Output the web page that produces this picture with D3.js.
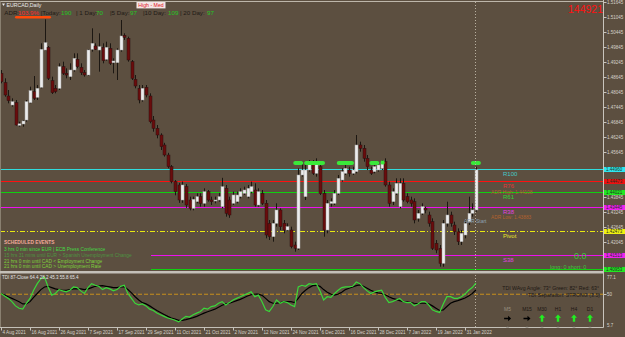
<!DOCTYPE html>
<html><head><meta charset="utf-8">
<script src="https://cdn.jsdelivr.net/npm/d3@7"></script>
<style>
html,body{margin:0;padding:0;background:#5c4f40;}
svg{display:block;}
text{font-family:"Liberation Sans",Arial,sans-serif;}
</style></head><body>
<svg id="c" width="625" height="337"></svg>
<script>
// ---------- DATA ----------
const opens  = [1.48780,1.48406,1.47873,1.47513,1.47606,1.46700,1.46753,1.46913,1.47606,1.48046,1.47820,1.48220,1.49713,1.49820,1.48486,1.48180,1.48180,1.49046,1.48780,1.48646,1.48913,1.49340,1.49020,1.48806,1.48713,1.49740,1.49873,1.49713,1.49820,1.49340,1.49780,1.49206,1.49206,1.49713,1.50300,1.50180,1.49246,1.48540,1.48180,1.47713,1.48220,1.47873,1.46913,1.46580,1.46313,
1.45913,1.45513,1.45046,1.44446,1.44313,1.43713,1.44246,1.43713,1.43380,1.43646,1.43846,1.43580,1.44046,1.43713,1.43680,1.43713,1.43446,1.44180,1.43713,1.43580,1.43646,1.43846,1.43980,1.43846,1.44046,1.44113,1.43513,1.43980,1.43580,1.42780,1.42246,1.42780,1.43313,1.42780,1.42513,1.42513,1.41913,1.41780,1.44713,1.43846,1.44913,1.45180,1.44780,1.45046,1.43980,1.42513,1.43580,1.43580,1.43980,1.44513,1.44780,1.44913,1.44780,1.44846,1.45913,1.45780,1.45380,1.44913,1.44846,1.44913,1.44980,1.45246,1.44313,1.43646,1.43980,1.43446,1.44380,1.43846,1.43713,1.43646,1.42980,1.43180,1.43380,1.43113,1.42846,1.41980,1.41780,1.41180,1.42780,1.43113,1.42713,1.42446,1.42046,1.42313,1.42846,1.43180,1.43313];
const highs  = [1.48913,1.48580,1.48113,1.47780,1.47713,1.46846,1.46913,1.47713,1.48246,1.48673,1.48313,1.49980,1.50940,1.49873,1.48646,1.48313,1.49180,1.49246,1.48980,1.49180,1.49580,1.49580,1.49180,1.48913,1.49740,1.50580,1.49980,1.50380,1.49980,1.50046,1.49980,1.49380,1.49780,1.50913,1.50380,1.50246,1.49313,1.48713,1.48313,1.48313,1.48313,1.47980,1.47073,1.46713,1.46380,
1.46000,1.45600,1.45113,1.44513,1.44400,1.44450,1.44350,1.43846,1.43846,1.43980,1.43980,1.44180,1.44113,1.43846,1.43846,1.44000,1.44600,1.44313,1.43846,1.44046,1.44046,1.44180,1.44246,1.44313,1.44446,1.44380,1.44180,1.44113,1.43713,1.42913,1.42913,1.43580,1.43380,1.42913,1.42780,1.42646,1.42046,1.44980,1.45246,1.45113,1.45313,1.45313,1.45380,1.45180,1.44113,1.43713,1.43780,1.44113,1.44713,1.44980,1.45113,1.45046,1.45046,1.46313,1.46046,1.45913,1.45513,1.45046,1.45180,1.45246,1.45313,1.45380,1.44446,1.44180,1.44580,1.44580,1.44580,1.43980,1.43846,1.43780,1.43313,1.43580,1.43446,1.43246,1.42980,1.42113,1.41913,1.42913,1.43646,1.43246,1.42846,1.42580,1.42513,1.42913,1.43846,1.43580,1.45046];
const lows   = [1.48380,1.47846,1.47580,1.47446,1.46690,1.46646,1.46646,1.46846,1.47580,1.47713,1.47713,1.48180,1.49700,1.48513,1.47953,1.47980,1.48113,1.48713,1.48580,1.48513,1.48846,1.48980,1.48713,1.48646,1.48673,1.49646,1.49713,1.48846,1.49180,1.49286,1.49113,1.48780,1.48513,1.49646,1.50113,1.49246,1.48513,1.48180,1.47580,1.47646,1.47820,1.46780,1.46446,1.46180,1.45713,
1.45450,1.44980,1.44380,1.43900,1.43600,1.43600,1.43400,1.43300,1.43300,1.43580,1.43446,1.43446,1.43646,1.43513,1.43580,1.43646,1.43380,1.43046,1.43000,1.43513,1.43580,1.43780,1.43913,1.43780,1.43980,1.43446,1.43446,1.43513,1.42180,1.42113,1.42046,1.42646,1.42513,1.42380,1.42446,1.41780,1.41646,1.41713,1.44646,1.43713,1.44846,1.44713,1.44646,1.43913,1.42246,1.42380,1.43446,1.43513,1.43913,1.44446,1.44713,1.44646,1.44713,1.44780,1.45646,1.45246,1.44913,1.44713,1.44780,1.44846,1.44913,1.44246,1.43446,1.43513,1.43913,1.43380,1.43646,1.43580,1.43446,1.42780,1.42846,1.43113,1.43180,1.42646,1.41713,1.41580,1.41046,1.41046,1.42646,1.42646,1.42313,1.41913,1.41913,1.42180,1.42713,1.43046,1.43246];
const closes = [1.48446,1.47913,1.47686,1.47646,1.46713,1.46760,1.46873,1.47646,1.48086,1.47780,1.48180,1.49740,1.50006,1.48580,1.48006,1.48046,1.49046,1.48780,1.48713,1.48913,1.49380,1.49046,1.48806,1.48713,1.49713,1.49980,1.49740,1.49846,1.49286,1.49820,1.49180,1.49273,1.49713,1.50273,1.50220,1.49313,1.48580,1.48273,1.47713,1.48180,1.47913,1.46846,1.46580,1.46313,1.45846,
1.45513,1.45046,1.44446,1.44046,1.43713,1.44313,1.43513,1.43380,1.43740,1.43846,1.43580,1.44046,1.43713,1.43646,1.43713,1.43846,1.44246,1.43180,1.43113,1.43913,1.43913,1.44046,1.44113,1.44180,1.44246,1.43513,1.44046,1.43580,1.42313,1.42246,1.42780,1.43313,1.42646,1.42513,1.42646,1.41846,1.41780,1.44713,1.44913,1.44913,1.45180,1.44780,1.45246,1.43980,1.42513,1.43580,1.43646,1.43980,1.44580,1.44846,1.44980,1.44780,1.44913,1.45913,1.45780,1.45380,1.45046,1.44780,1.45046,1.45113,1.45180,1.44313,1.43580,1.44046,1.44380,1.44380,1.43713,1.43646,1.43580,1.42913,1.43180,1.43446,1.43313,1.42780,1.41780,1.41713,1.41180,1.42780,1.43113,1.42780,1.42446,1.42046,1.42380,1.42780,1.43180,1.43313,1.44921];

// TDI indicator (price line = green, trade signal = black)
const tdiPrice = [51.0,47.5,44.3,39.8,34.0,30.8,29.5,37.6,44.3,55.5,64.5,71.3,73.5,60.0,48.8,51.0,56.4,54.6,53.3,55.5,60.0,59.1,54.6,51.0,59.1,64.5,62.3,60.9,56.4,59.1,57.3,54.6,56.4,60.9,62.3,51.0,44.3,37.6,35.3,36.7,34.0,29.5,27.7,24.1,21.9,19.6,17.4,16.0,14.2,12.0,16.0,19.6,18.7,21.9,24.1,26.4,30.8,29.5,33.1,34.0,37.6,39.8,35.3,38.5,42.1,44.3,46.6,48.8,51.0,53.3,46.6,48.8,39.8,28.6,26.4,33.1,42.1,37.6,39.8,38.5,35.3,33.1,60.0,62.3,60.9,64.5,63.6,64.5,54.6,42.1,46.6,45.7,51.0,55.5,59.1,60.0,60.0,60.9,66.8,64.5,59.1,54.6,51.0,53.3,54.6,55.5,45.7,38.5,39.8,42.1,44.3,39.8,38.5,38.5,34.0,36.7,39.8,39.8,35.3,28.6,26.4,25.0,36.7,46.6,46.6,44.3,44.3,46.6,50.2,55.5,59.1,65.4];
const tdiSignal = [51.0,48.8,46.6,44.3,42.1,39.8,36.7,36.7,39.8,45.7,51.0,56.4,60.0,60.9,59.1,57.3,56.4,55.5,55.5,56.4,57.3,57.8,57.3,56.4,57.3,59.1,60.9,61.4,61.8,60.9,60.0,59.1,59.1,60.0,60.0,56.4,51.9,46.6,42.1,38.5,36.7,34.0,30.8,27.7,25.0,22.3,19.6,17.4,16.0,14.2,14.2,15.1,16.5,17.8,19.6,21.9,24.1,25.9,27.7,29.5,32.2,34.9,36.7,37.6,39.4,41.2,43.0,45.2,47.5,49.3,50.2,50.2,48.4,44.3,39.8,37.6,37.6,38.5,39.4,39.8,39.8,38.5,44.3,51.0,55.5,59.1,61.8,62.3,60.9,56.4,52.8,50.2,48.8,50.2,52.8,56.4,58.2,60.0,61.8,62.7,60.9,58.2,55.5,53.3,51.9,51.0,49.3,46.6,44.3,43.0,41.2,39.8,39.4,38.5,37.6,37.1,37.6,37.6,36.7,34.0,30.8,27.7,28.6,33.1,37.6,39.8,41.2,43.0,44.8,47.5,51.0,55.8];
const tdiLevel = 50;
const tdiRange = [77.1, 5.7];

const dateLabels = ["4 Aug 2021","16 Aug 2021","26 Aug 2021","7 Sep 2021","17 Sep 2021","29 Sep 2021","11 Oct 2021","21 Oct 2021","2 Nov 2021","12 Nov 2021","24 Nov 2021","6 Dec 2021","16 Dec 2021","28 Dec 2021","7 Jan 2022","19 Jan 2022","31 Jan 2022"];
const dateLabelBars = [0,8,16,24,32,40,48,56,64,72,80,88,96,104,112,120,128];

// price axis labels (those hidden behind level boxes are omitted)
const priceTicks = ["1.51645","1.51045","1.50445","1.49845","1.49245","1.48645","1.48045","1.47445","1.46845","1.46245","1.45645","1.43845","1.43245","1.42645","1.42045"];

const levelNames  = ["R100","R76","R61","R38","Pivot","S38","S61"];
const levelValues = [1.44960,1.44473,1.44021,1.43445,1.42473,1.41513,1.40953];

const markerBars = [82,85,86,87,88,94,95,96,103,131];
const smallMarkerBars = [105];

const adrParts = [["ADR:", "d"],["103.9%","r"],["|Today:","d"],["190","g"],["| 1 Day:","d"],["70","g"],["|5 Day:","d"],["97","g"],["|10 Day:","d"],["109","g"],["| 20 Day:","d"],["97","g"]];
const events = ["3 hrs 0 min since EUR  |  ECB Press Conference","15 hrs 31 mins until EUR  >  Spanish Unemployment Change","21 hrs 0 min until CAD  <  Employment Change","21 hrs 0 min until CAD  >  Unemployment Rate"];
const timeframes = ["M5","M15","M30","H1","H4","D1"];
const tfDirection = ["right","right","up","up","up","up"];
const lastPrice = "144921";

// ---------- DRAW ----------
const svg = d3.select("#c");
const W = 625, H = 337, PR = 603.5, MT = 2, MB = 271, IT = 273.5, IB = 327.5;
const x = d3.scaleLinear().domain([0,131]).range([1, 1+3.625*131]);
const y = d3.scaleLinear().domain([1.51645, 1.40873]).range([1.7, 271]);
const yi = d3.scaleLinear().domain(tdiRange).range([274.5, 326.5]);

svg.append("rect").attr("width",W).attr("height",H).attr("fill","#5c4f40");

const defs = svg.append("defs");
defs.append("clipPath").attr("id","mainClip").append("rect").attr("x",0).attr("y",MT).attr("width",PR).attr("height",MB-MT);
defs.append("clipPath").attr("id","indClip").append("rect").attr("x",0).attr("y",IT).attr("width",PR).attr("height",IB-IT);

const main = svg.append("g").attr("clip-path","url(#mainClip)");

// level lines
const levelColors = ["#30dcdc","#ff1010","#10d010","#ee10ee","#e8e810","#ee10ee","#10d010"];
const levelText   = ["#45c8c8","#e03a3a","#36d036","#e040e0","#e6e030","#e040e0","#36d036"];
const levelStart  = [0,0,0,0,0,151,151];
levelValues.forEach((v,k)=>{
  const yy = Math.round(y(v))+0.5;
  main.append("line").attr("x1",levelStart[k]).attr("x2",PR).attr("y1",yy).attr("y2",yy)
    .attr("stroke",levelColors[k]).attr("stroke-width",1).attr("shape-rendering","crispEdges")
    .attr("stroke-dasharray", levelNames[k]==="Pivot" ? "5,2,1,2" : null);
  main.append("text").attr("x",503).attr("y",yy+6).attr("font-size",6).attr("fill",levelText[k]).text(levelNames[k]);
});

// current bar vertical dotted line
svg.append("line").attr("x1",Math.round(x(131))-0.5).attr("x2",Math.round(x(131))-0.5).attr("y1",MT).attr("y2",IB)
  .attr("stroke","#b8b0a0").attr("stroke-dasharray","1,2").attr("stroke-width",1);

// candles
const bars = d3.range(opens.length);
const cg = main.append("g");
cg.selectAll("line.w").data(bars).join("line")
  .attr("x1",i=>Math.round(x(i))+0.5).attr("x2",i=>Math.round(x(i))+0.5)
  .attr("y1",i=>y(highs[i])).attr("y2",i=>y(lows[i]))
  .attr("stroke","#1c1712").attr("stroke-width",1);
cg.selectAll("rect.b").data(bars).join("rect")
  .attr("x",i=>Math.round(x(i))-1)
  .attr("width",3)
  .attr("y",i=>y(Math.max(opens[i],closes[i])))
  .attr("height",i=>Math.max(1,Math.abs(y(opens[i])-y(closes[i]))))
  .attr("fill",i=>closes[i]>=opens[i]?"#ececec":"#6a0c0c")
  .attr("stroke",i=>closes[i]>=opens[i]?"#a8a8a8":"#2a1010")
  .attr("stroke-width",0.5);

// markers
main.selectAll("rect.m").data(markerBars).join("rect")
  .attr("x",i=>x(i)-5).attr("y",161).attr("width",10).attr("height",4).attr("rx",2)
  .attr("fill","#3ae83a");
main.selectAll("rect.sm").data(smallMarkerBars).join("rect")
  .attr("x",i=>x(i)-1).attr("y",160.5).attr("width",4).attr("height",4).attr("rx",1.5)
  .attr("fill","#3ae83a");

// ADR labels
main.append("text").attr("x",491).attr("y",193.5).attr("font-size",4.8).attr("fill","#b2622e").text("ADR High: 1.44108");
main.append("text").attr("x",491).attr("y",219).attr("font-size",4.8).attr("fill","#b2622e").text("ADR Low: 1.43883");
main.append("text").attr("x",464).attr("y",222.5).attr("font-size",5).attr("fill","#8ea2b2").text("ADR Start");
main.append("text").attr("x",574).attr("y",259).attr("font-size",9).attr("fill","#3cc43c").text("0.0");
main.append("text").attr("x",550).attr("y",268.5).attr("font-size",5.5).attr("fill","#3cc43c").text("long: 0    short: 0");

// events
main.append("text").attr("x",4).attr("y",244.3).attr("font-size",4.8).attr("font-weight","bold").attr("fill","#f0a898").text("SCHEDULED EVENTS");
const evColors = ["#44d844","#4e9440","#7ed23a","#7ed23a"];
events.forEach((t,k)=>{
  main.append("text").attr("x",4).attr("y",251+k*5.8).attr("font-size",4.8).attr("fill",evColors[k]).text(t);
});

// header
svg.append("path").attr("d","M2,3.5 L5,3.5 L3.5,6 Z").attr("fill","#e8e8e8");
svg.append("text").attr("x",6.5).attr("y",7).attr("font-size",5.2).attr("fill","#ececec").text("EURCAD,Daily");
svg.append("rect").attr("x",136.5).attr("y",1.8).attr("width",29).attr("height",6.6).attr("fill","#f4e6e6");
svg.append("text").attr("x",151).attr("y",7).attr("text-anchor","middle").attr("font-size",5.2).attr("fill","#e01818").text("High - Med");
const adrX = [4.3,18,40.7,61,76,96,110,130,143,168,180,207];
const adrC = {d:"#1e1a16", r:"#ff2a2a", g:"#22c822"};
adrParts.forEach((p,k)=>{
  svg.append("text").attr("x",adrX[k]).attr("y",15).attr("font-size",6.2).attr("fill",adrC[p[1]]).text(p[0]);
});
svg.append("rect").attr("x",15).attr("y",16).attr("width",36).attr("height",2.6).attr("rx",1.3).attr("fill","#ff4a0a");
svg.append("text").attr("x",603).attr("y",12.8).attr("text-anchor","end").attr("font-size",10.5).attr("fill","#ff1010").text(lastPrice);

// frames
svg.append("line").attr("x1",0).attr("x2",PR).attr("y1",1.5).attr("y2",1.5).attr("stroke","#bdb6aa");
svg.append("line").attr("x1",0.5).attr("x2",0.5).attr("y1",1.5).attr("y2",IB).attr("stroke","#8a8070");
svg.append("rect").attr("x",0).attr("y",MB).attr("width",PR).attr("height",2.5).attr("fill","#c4c0b8");
svg.append("line").attr("x1",0).attr("x2",PR).attr("y1",IB).attr("y2",IB).attr("stroke","#c4c0b8");
svg.append("line").attr("x1",PR).attr("x2",PR).attr("y1",0).attr("y2",IB).attr("stroke","#c8c4bc");

// price axis
priceTicks.forEach(t=>{
  const yy = Math.round(y(+t))+0.5;
  svg.append("line").attr("x1",PR).attr("x2",PR+3).attr("y1",yy).attr("y2",yy).attr("stroke","#c8c4bc");
  svg.append("text").attr("x",607).attr("y",yy+1.6).attr("font-size",4.5).attr("fill","#d6d2ca").text(t);
});
// level boxes
const boxFill = ["#2ee6f0","#ee1010","#22e822","#ee22ee","#f0f010","#ee22ee","#22e822"];
levelValues.forEach((v,k)=>{
  const yy = Math.round(y(v))+0.5;
  svg.append("rect").attr("x",604).attr("y",yy-2.5).attr("width",21).attr("height",5).attr("fill",boxFill[k]);
  svg.append("text").attr("x",606).attr("y",yy+1.6).attr("font-size",4.5).attr("fill","#203020").text(v.toFixed(5));
});

// indicator
const ind = svg.append("g").attr("clip-path","url(#indClip)");
ind.append("line").attr("x1",0).attr("x2",PR).attr("y1",yi(tdiLevel)).attr("y2",yi(tdiLevel))
  .attr("stroke","#c8901c").attr("stroke-dasharray","4,2");
const line = d3.line().x((d,i)=>x(i)).y(d=>yi(d));
ind.append("path").datum(tdiSignal).attr("d",line).attr("fill","none").attr("stroke","#000").attr("stroke-width",1.2);
ind.append("path").datum(tdiPrice).attr("d",line).attr("fill","none").attr("stroke","#3ad83a").attr("stroke-width",1.2);
ind.append("text").attr("x",2).attr("y",278.8).attr("font-size",4.5).attr("fill","#e6e6e6").text("TDI 87-Close 64.4 28.2 45.3 55.8 65.4");
ind.append("text").attr("x",599).attr("y",289.6).attr("text-anchor","end").attr("font-size",5.2).attr("fill","#1c1814").text("TDI WAvg Angle: 73°   Green: 82°   Red: 63°");
ind.append("text").attr("x",600).attr("y",296.8).attr("text-anchor","end").attr("font-size",5.2).attr("fill","#1c1814").text("TDI Separation: STRONG (3.5)");
const tfX = [507.6,527,542,558,574,590];
timeframes.forEach((t,k)=>{
  ind.append("text").attr("x",tfX[k]).attr("y",310.5).attr("text-anchor","middle").attr("font-size",5).attr("fill",k===0?"#9a9080":"#1c1814").text(t);
  const cx = tfX[k], cy = 318.5;
  if(tfDirection[k]==="right"){
    ind.append("path").attr("d",`M${cx-3.5},${cy-0.8}h4v-2l3,2.8l-3,2.8v-2h-4z`).attr("fill","#000");
  } else {
    ind.append("path").attr("d",`M${cx},${cy-4}l3,3.2h-1.8v4h-2.4v-4h-1.8z`).attr("fill","#22ee22");
  }
  ind.append("circle").attr("cx",cx).attr("cy",328).attr("r",1.6).attr("fill","#7e7a72");
});

// indicator axis labels
svg.append("text").attr("x",607).attr("y",279).attr("font-size",4.5).attr("fill","#d6d2ca").text(tdiRange[0].toFixed(1));
svg.append("line").attr("x1",PR).attr("x2",PR+3).attr("y1",Math.round(yi(tdiLevel))+0.5).attr("y2",Math.round(yi(tdiLevel))+0.5).attr("stroke","#c8c4bc");
svg.append("text").attr("x",607).attr("y",yi(tdiLevel)+1.6).attr("font-size",4.5).attr("fill","#d6d2ca").text(String(tdiLevel));
svg.append("text").attr("x",607).attr("y",327).attr("font-size",4.5).attr("fill","#d6d2ca").text(tdiRange[1].toFixed(1));

// date axis
dateLabels.forEach((t,k)=>{
  const xx = Math.round(x(dateLabelBars[k]))+0.5;
  svg.append("line").attr("x1",xx).attr("x2",xx).attr("y1",IB).attr("y2",IB+3).attr("stroke","#c8c4bc");
  svg.append("text").attr("x",xx+1).attr("y",333.6).attr("font-size",4.6).attr("fill","#d6d2ca").text(t);
});
</script>
</body></html>
